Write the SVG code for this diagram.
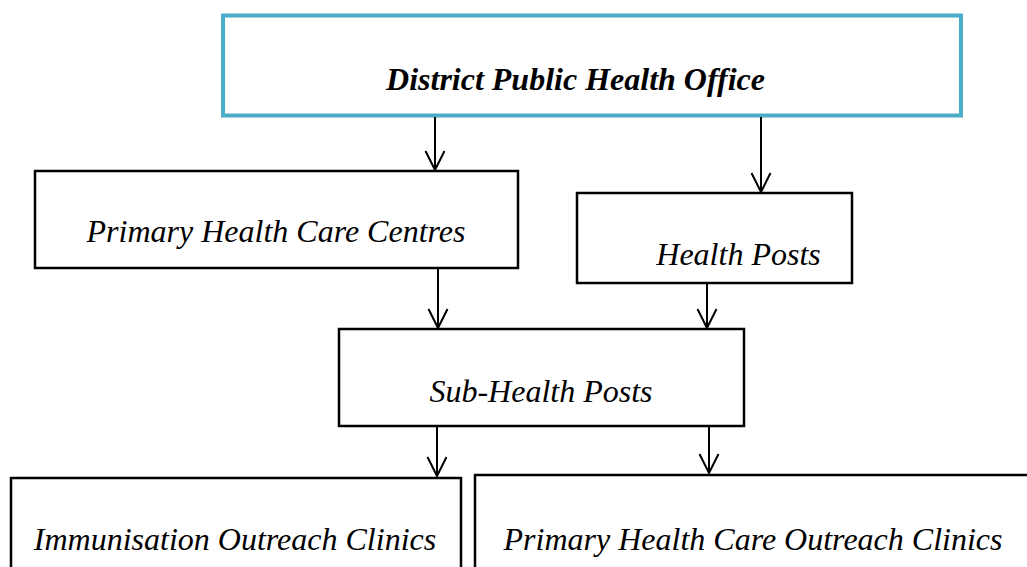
<svg xmlns="http://www.w3.org/2000/svg" width="1027" height="567" viewBox="0 0 1027 567">
<style>
.box{fill:#fff;stroke:#000;stroke-width:2.5}
.top{fill:#fff;stroke:#4BACC6;stroke-width:4}
.lbl{font-family:"Liberation Serif","Times New Roman",serif;font-style:italic;font-size:32px;fill:#000;text-anchor:middle}
.bold{font-weight:bold}
.conn{stroke:#000;stroke-width:2;fill:none}
</style>
<defs>
<marker id="arr" markerUnits="userSpaceOnUse" markerWidth="24" markerHeight="26" viewBox="-22 -12 24 24" refX="0" refY="0" orient="auto">
<path d="M-19,-9.5 L0,0 L-19,9.5" fill="none" stroke="#000" stroke-width="2"/>
</marker>
</defs>
<rect width="1027" height="567" fill="#fff"/>
<g id="node-dpho">
<rect class="top" x="223" y="15.5" width="738" height="100"/>
<text class="lbl bold" x="575.5" y="90">District Public Health Office</text>
</g>
<g id="node-phcc">
<rect class="box" x="35" y="171" width="483" height="97"/>
<text class="lbl" x="276" y="242">Primary Health Care Centres</text>
</g>
<g id="node-hp">
<rect class="box" x="577" y="193" width="275" height="90"/>
<text class="lbl" x="738.5" y="265">Health Posts</text>
</g>
<g id="node-shp">
<rect class="box" x="339" y="329" width="405" height="97"/>
<text class="lbl" x="541" y="402">Sub-Health Posts</text>
</g>
<g id="node-ioc">
<rect class="box" x="11" y="478" width="450" height="100"/>
<text class="lbl" x="235" y="550">Immunisation Outreach Clinics</text>
</g>
<g id="node-phcoc">
<rect class="box" x="475" y="475" width="560" height="100"/>
<text class="lbl" x="753" y="550">Primary Health Care Outreach Clinics</text>
</g>
<g id="connectors">
<line class="conn" x1="435" y1="117" x2="435" y2="170" marker-end="url(#arr)"/>
<line class="conn" x1="761" y1="117" x2="761" y2="192" marker-end="url(#arr)"/>
<line class="conn" x1="438" y1="269" x2="438" y2="328" marker-end="url(#arr)"/>
<line class="conn" x1="707" y1="284" x2="707" y2="328" marker-end="url(#arr)"/>
<line class="conn" x1="437" y1="427" x2="437" y2="476" marker-end="url(#arr)"/>
<line class="conn" x1="709" y1="427" x2="709" y2="473" marker-end="url(#arr)"/>
</g>
</svg>
